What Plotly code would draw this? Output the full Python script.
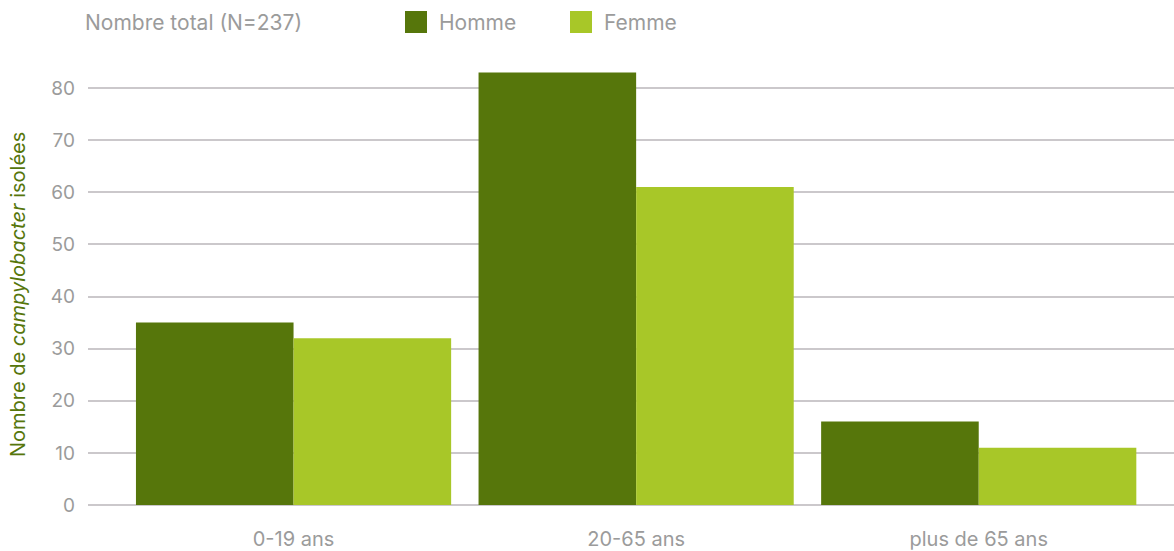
import plotly.graph_objects as go

categories = ["0-19 ans", "20-65 ans", "plus de 65 ans"]
homme = [35, 83, 16]
femme = [32, 61, 11]
series_names = ["Homme", "Femme"]
colors = ["#56760B", "#A8C728"]
title_text = "Nombre total (N=237)"
y_title = "Nombre de <i>campylobacter</i> isolées"

W, H = 1174, 551
L, R, T, B = 88, 0, 62, 46
pw, ph = W - L - R, H - T - B

fig = go.Figure()
for name, vals, col in zip(series_names, [homme, femme], colors):
    fig.add_trace(go.Bar(x=categories, y=vals, name=name, marker_color=col,
                         marker_line_width=0, showlegend=False))

def px_x(x):
    return (x - L) / pw

def px_y(y):
    return (H - B - y) / ph

gray = "#9b9b9b"
font_family = "Inter, Roboto, sans-serif"

annotations = [
    dict(text=title_text, x=px_x(83), y=px_y(22), xref="paper", yref="paper",
         xanchor="left", yanchor="middle", showarrow=False,
         font=dict(size=21, color=gray, family=font_family)),
    dict(text=y_title, x=px_x(18), y=px_y(295), xref="paper", yref="paper",
         xanchor="center", yanchor="middle", textangle=-90, showarrow=False,
         font=dict(size=20, color="#56760B", family=font_family)),
]
shapes = []
legend_pos = [(405, 437), (570, 602)]
for (sx, tx), name, col in zip(legend_pos, series_names, colors):
    shapes.append(dict(type="rect", xref="paper", yref="paper",
                       x0=px_x(sx), x1=px_x(sx + 22), y0=px_y(11), y1=px_y(33),
                       fillcolor=col, line_width=0))
    annotations.append(dict(text=name, x=px_x(tx), y=px_y(22), xref="paper", yref="paper",
                            xanchor="left", yanchor="middle", showarrow=False,
                            font=dict(size=21, color=gray, family=font_family)))

fig.update_layout(
    width=W, height=H,
    margin=dict(l=L, r=R, t=T, b=B, autoexpand=False),
    paper_bgcolor="white", plot_bgcolor="white",
    barmode="group", bargap=0.08, bargroupgap=0,
    font=dict(family=font_family, color=gray, size=18),
    xaxis=dict(range=[-0.6, 2.57], showgrid=False, showline=False, ticks="",
               tickfont=dict(size=20, color=gray), ticklabelstandoff=20, fixedrange=True),
    yaxis=dict(range=[0, 85], tickvals=[0, 10, 20, 30, 40, 50, 60, 70, 80],
               showgrid=True, gridcolor="#cbc8cb", gridwidth=2,
               zeroline=True, zerolinecolor="#cbc8cb", zerolinewidth=2,
               showline=False, ticks="", tickfont=dict(size=19, color=gray),
               ticklabelstandoff=12, fixedrange=True),
    annotations=annotations, shapes=shapes,
)

fig.write_html("out.html", config={"displayModeBar": False},
               post_script="document.body.style.margin='0';document.body.style.padding='0';")
